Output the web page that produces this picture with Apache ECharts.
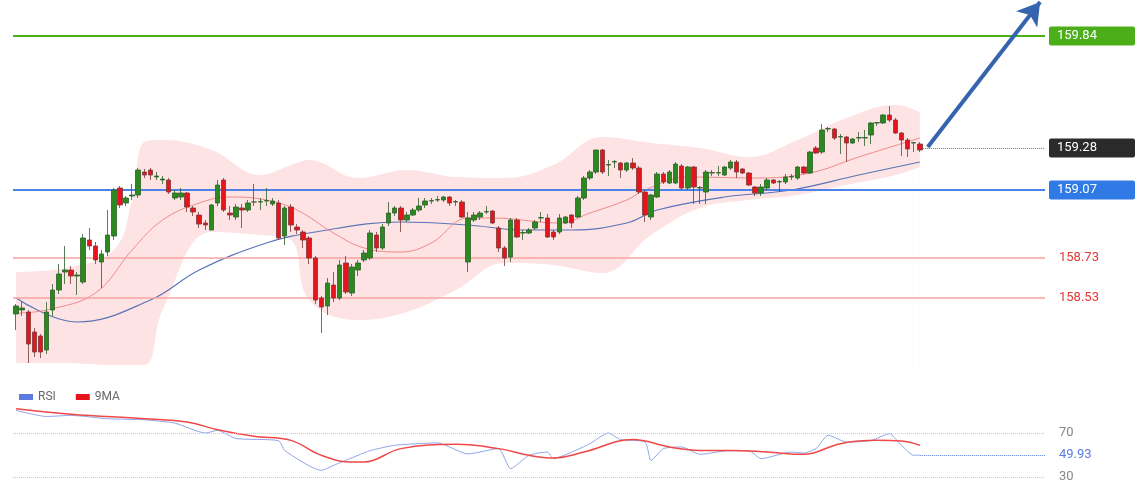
<!DOCTYPE html>
<html>
<head>
<meta charset="utf-8">
<script src="https://cdn.jsdelivr.net/npm/echarts@6/dist/echarts.min.js"></script>
<style>html,body{margin:0;padding:0;background:#fff}#chart{width:1140px;height:500px}</style>
</head>
<body>
<div id="chart"></div>
<script>
// candles: [open, close, low, high]
var candles = [
  [158.45,158.49,158.37,158.50],[158.47,158.48,158.44,158.51],[158.46,158.30,158.205,158.47],[158.36,158.26,158.235,158.38],
  [158.34,158.26,158.23,158.35],[158.27,158.46,158.25,158.51],[158.47,158.57,158.44,158.60],[158.57,158.65,158.55,158.70],
  [158.66,158.67,158.60,158.79],[158.67,158.64,158.60,158.69],[158.64,158.645,158.545,158.66],[158.61,158.83,158.60,158.85],
  [158.82,158.79,158.77,158.88],[158.79,158.72,158.70,158.81],[158.71,158.75,158.58,158.77],[158.76,158.845,158.74,158.97],
  [158.84,159.07,158.82,159.08],[159.08,158.995,158.98,159.09],[159.005,159.03,158.99,159.04],[159.04,159.045,159.02,159.10],
  [159.045,159.17,159.03,159.18],[159.16,159.145,159.13,159.175],[159.17,159.145,159.12,159.18],[159.135,159.14,159.12,159.16],
  [159.12,159.125,159.10,159.14],[159.12,159.06,159.05,159.13],[159.03,159.055,159.02,159.07],[159.035,159.055,159.02,159.08],
  [159.055,158.985,158.96,159.06],[158.98,158.96,158.94,158.99],[158.945,158.90,158.88,158.96],[158.905,158.895,158.87,158.92],
  [158.87,158.995,158.87,159.00],[159.005,159.095,158.99,159.12],[159.12,158.97,158.96,159.13],[158.955,158.945,158.92,158.99],
  [158.935,158.985,158.92,159.00],[158.98,158.97,158.88,159.00],[158.97,159.005,158.96,159.02],[159.01,159.01,158.99,159.10],
  [159.01,159.012,158.97,159.03],[159.015,159.017,158.99,159.08],[159.0,159.015,158.99,159.03],[159.005,158.83,158.82,159.02],
  [158.84,158.98,158.795,158.99],[158.985,158.895,158.86,159.00],[158.885,158.87,158.85,158.90],[158.86,158.82,158.78,158.87],
  [158.83,158.73,158.70,158.84],[158.73,158.52,158.50,158.74],[158.53,158.485,158.355,158.54],[158.49,158.605,158.445,158.63],
  [158.595,158.53,158.51,158.66],[158.53,158.695,158.52,158.72],[158.705,158.56,158.55,158.74],[158.555,158.685,158.54,158.70],
  [158.67,158.705,158.64,158.72],[158.72,158.755,158.71,158.77],[158.73,158.855,158.72,158.87],[158.845,158.78,158.76,158.86],
  [158.78,158.885,158.77,158.90],[158.905,158.955,158.89,159.01],[158.955,158.98,158.94,158.99],[158.98,158.92,158.86,158.99],
  [158.92,158.945,158.91,158.96],[158.945,158.97,158.94,158.98],[158.97,158.99,158.96,159.03],[158.995,159.015,158.98,159.03],
  [159.015,159.017,159.00,159.03],[159.02,159.022,159.01,159.04],[159.02,159.035,159.01,159.04],[159.035,159.005,158.99,159.04],
  [159.01,159.012,158.99,159.02],[159.01,158.935,158.93,159.02],[158.71,158.93,158.66,158.96],[158.92,158.945,158.91,158.96],
  [158.935,158.955,158.92,158.965],[158.96,158.962,158.95,158.99],[158.965,158.905,158.90,158.97],[158.88,158.78,158.76,158.89],
  [158.78,158.73,158.69,158.79],[158.735,158.92,158.71,158.93],[158.92,158.835,158.83,158.93],[158.855,158.857,158.82,158.87],
  [158.855,158.87,158.85,158.88],[158.88,158.91,158.87,158.92],[158.93,158.932,158.91,158.96],[158.93,158.835,158.83,158.95],
  [158.86,158.835,158.82,158.87],[158.86,158.93,158.85,158.95],[158.905,158.935,158.90,158.94],[158.945,158.905,158.88,158.95],
  [158.935,159.03,158.93,159.04],[159.03,159.13,159.02,159.14],[159.13,159.16,159.12,159.17],[159.16,159.27,159.15,159.27],
  [159.27,159.16,159.15,159.275],[159.195,159.197,159.14,159.22],[159.21,159.212,159.18,159.22],[159.205,159.17,159.13,159.21],
  [159.17,159.205,159.16,159.21],[159.205,159.18,159.17,159.23],[159.18,159.06,159.05,159.19],[159.06,158.945,158.91,159.07],
  [158.935,159.045,158.92,159.05],[159.035,159.15,159.03,159.16],[159.15,159.11,159.10,159.16],[159.105,159.16,159.10,159.17],
  [159.105,159.20,159.10,159.21],[159.19,159.08,159.07,159.20],[159.08,159.185,159.07,159.19],[159.185,159.085,159.00,159.19],
  [159.08,159.082,159.00,159.09],[159.06,159.16,159.00,159.17],[159.155,159.157,159.14,159.17],[159.155,159.157,159.14,159.19],
  [159.145,159.185,159.14,159.19],[159.18,159.21,159.17,159.22],[159.21,159.16,159.13,159.22],[159.175,159.155,159.15,159.18],
  [159.155,159.095,159.09,159.16],[159.085,159.055,159.04,159.09],[159.055,159.085,159.04,159.10],[159.08,159.12,159.07,159.13],
  [159.12,159.105,159.10,159.125],[159.11,159.112,159.06,159.12],[159.11,159.135,159.10,159.15],[159.135,159.137,159.12,159.15],
  [159.13,159.185,159.12,159.19],[159.185,159.155,159.15,159.19],[159.155,159.26,159.15,159.265],[159.28,159.255,159.25,159.29],
  [159.26,159.37,159.25,159.40],[159.375,159.377,159.36,159.385],[159.375,159.33,159.32,159.38],[159.335,159.337,159.25,159.35],
  [159.335,159.305,159.21,159.34],[159.305,159.325,159.30,159.33],[159.33,159.332,159.31,159.36],[159.33,159.332,159.29,159.37],
  [159.345,159.405,159.30,159.41],[159.405,159.407,159.39,159.41],[159.405,159.445,159.40,159.45],[159.445,159.42,159.41,159.49],
  [159.42,159.355,159.35,159.43],[159.355,159.32,159.24,159.36],[159.32,159.275,159.235,159.33],[159.305,159.307,159.26,159.31],
  [159.30,159.27,159.26,159.31]
];
var slotCount = 169;

// Bollinger band, sampled [index, price]
var bandUpper = [[0,158.66],[8,158.68],[16,158.77],[19,159.02],[21,159.31],[24,159.32],[32,159.27],[40,159.145],[45,159.195],[48,159.22],[56,159.13],[64,159.17],[72,159.135],[80,159.13],[88,159.195],[96,159.335],[104,159.305],[112,159.28],[120,159.235],[128,159.32],[136,159.43],[144,159.495],[148,159.46]];
var bandLower = [[0,158.205],[8,158.205],[16,158.195],[21,158.195],[24,158.47],[32,158.86],[40,158.845],[45,158.82],[48,158.52],[56,158.42],[64,158.46],[72,158.57],[80,158.705],[88,158.695],[96,158.655],[104,158.845],[112,158.98],[120,159.02],[128,159.045],[136,159.095],[144,159.145],[148,159.185]];
var maFast = [[0,158.455],[5,158.47],[13,158.555],[19,158.77],[24,158.92],[30,159.005],[35,159.035],[41,159.02],[46,158.97],[52,158.855],[57,158.78],[63,158.76],[68,158.805],[74,158.93],[78,158.93],[89,158.905],[94,158.955],[100,159.02],[103,159.07],[110,159.135],[121,159.13],[130,159.155],[138,159.235],[148,159.33]];
var maSlow = [[0,158.53],[10,158.41],[22,158.52],[30,158.67],[41,158.805],[49,158.86],[63,158.91],[74,158.895],[83,158.87],[91,158.87],[100,158.905],[105,158.97],[116,159.035],[127,159.07],[138,159.145],[148,159.21]];

var rsi = [[0,90.6],[5,85],[9,86],[15,83],[21,82],[26,79],[31,70],[33,72.4],[36,65],[43,63],[44,54],[50,36],[52,40.6],[56,49.7],[58,54],[62,58.8],[69,61],[74,51],[79,55.8],[81,37.6],[84,49.7],[87,52.7],[88,46.7],[91,52.7],[94,60.3],[97,70],[99,64],[103,61.8],[104,45],[106,55.8],[109,57.3],[112,50.6],[116,53.6],[120,54],[122,46.7],[127,52.7],[129,51.8],[131,55.8],[133,67.9],[136,61.8],[140,63],[143,69.4],[145,58.8],[147,49.7],[148,49.93]];
var rsiMa = [[0,92],[9,87],[21,83],[28,80],[33,73],[39,67],[45,63.3],[50,49.7],[55,43.6],[57,43.6],[63,55.8],[72,59.7],[79,55.8],[84,49.7],[88,47.3],[93,52.7],[101,64],[107,57.3],[112,54.2],[117,54.2],[123,52.7],[129,50.6],[135,60.3],[141,63.3],[145,62.7],[148,58.8]];

var levelResist = 159.84, levelPivot = 159.07, levelS1 = 158.73, levelS2 = 158.53, lastPrice = 159.28, lastRsi = 49.93;
var arrowFrom = [149.3, 159.285], arrowTo = [167.7, 160.01];

var cats = [];
for (var i = 0; i < slotCount; i++) cats.push(String(i));

var myChart = echarts.init(document.getElementById('chart'));

function hLine(y, color, width, type, label) {
  return { yAxis: y, lineStyle: { color: color, width: width, type: type }, label: label };
}
function boxLabel(text, bg) {
  return { show: true, position: 'end', distance: 4, formatter: text, backgroundColor: bg, color: '#fff',
    padding: [3, 8], width: 70, fontSize: 13, fontFamily: 'Roboto', borderRadius: 2 };
}
function textLabel(text, color) {
  return { show: true, position: 'end', distance: 14, formatter: text, color: color, fontSize: 13, fontFamily: 'Roboto' };
}

var option = {
  animation: false,
  backgroundColor: '#fff',
  legend: {
    left: 14, top: 386, itemWidth: 14, itemHeight: 6, itemGap: 20,
    icon: 'rect',
    textStyle: { color: '#666', fontSize: 12, fontFamily: 'Roboto' },
    data: ['RSI', '9MA']
  },
  grid: [
    { left: 13, top: 0, width: 1032, height: 370 },
    { left: 13, top: 400, width: 1032, height: 88 }
  ],
  xAxis: [
    { type: 'category', gridIndex: 0, data: cats, show: false, boundaryGap: true },
    { type: 'value', gridIndex: 0, min: -0.5, max: slotCount - 0.5, show: false },
    { type: 'value', gridIndex: 1, min: -0.5, max: slotCount - 0.5, show: false }
  ],
  yAxis: [
    { type: 'value', gridIndex: 0, min: 158.17, max: 160.02, show: false, splitLine: { show: false } },
    { type: 'value', gridIndex: 1, min: 20, max: 100, show: false, splitLine: { show: false } }
  ],
  series: [
    { type: 'line', xAxisIndex: 1, yAxisIndex: 0, data: bandUpper, smooth: 0.4, symbol: 'none', z: 1,
      lineStyle: { width: 0 }, areaStyle: { color: '#fde3e3', opacity: 1, origin: 'start' } },
    { type: 'line', xAxisIndex: 1, yAxisIndex: 0, data: bandLower, smooth: 0.4, symbol: 'none', z: 1,
      lineStyle: { width: 0 }, areaStyle: { color: '#ffffff', opacity: 1, origin: 'start' } },
    { type: 'line', xAxisIndex: 1, yAxisIndex: 0, data: maSlow, smooth: 0.4, symbol: 'none', z: 2,
      lineStyle: { color: '#5b74b8', width: 1.2 } },
    { type: 'line', xAxisIndex: 1, yAxisIndex: 0, data: maFast, smooth: 0.4, symbol: 'none', z: 2,
      lineStyle: { color: '#f28a8a', width: 1 } },
    { type: 'candlestick', xAxisIndex: 0, yAxisIndex: 0, data: candles, barWidth: 5, z: 5,
      itemStyle: { color: '#2a8a1e', color0: '#e8141c', borderColor: '#2f5f2a', borderColor0: '#7a3a3a', borderWidth: 0.8 } },
    { type: 'line', xAxisIndex: 1, yAxisIndex: 0, data: [], z: 6,
      markLine: {
        silent: true, symbol: 'none', animation: false,
        data: [
          hLine(levelResist, '#4caf1a', 2, 'solid', boxLabel(String(levelResist), '#4caf1a')),
          hLine(levelPivot, '#4d82e8', 2, 'solid', boxLabel(String(levelPivot), '#2f7ae5')),
          hLine(levelS1, '#f6a3a3', 1.5, 'solid', textLabel(String(levelS1), '#e53935')),
          hLine(levelS2, '#f6a3a3', 1.5, 'solid', textLabel(String(levelS2), '#e53935')),
          [
            { coord: [148.5, lastPrice], lineStyle: { color: '#777', width: 1, type: 'dotted' }, label: boxLabel(String(lastPrice), '#2b2b2b') },
            { coord: [slotCount - 0.5, lastPrice] }
          ],
          [
            { coord: arrowFrom, symbol: 'none', lineStyle: { color: '#3563ad', width: 4, type: 'solid' }, label: { show: false } },
            { coord: arrowTo, symbol: 'arrow', symbolSize: [20, 22] }
          ]
        ]
      }
    },
    { name: 'RSI', type: 'line', xAxisIndex: 2, yAxisIndex: 1, data: rsi, symbol: 'none', smooth: 0.2,
      color: '#5b7be0', lineStyle: { color: '#8fa6ea', width: 1 },
      markLine: {
        silent: true, symbol: 'none',
        data: [
          hLine(70, '#c8c8c8', 1, 'dotted', textLabel('70', '#888')),
          hLine(30, '#c8c8c8', 1, 'dotted', textLabel('30', '#888')),
          [
            { coord: [148, lastRsi], lineStyle: { color: '#5b7be0', width: 1, type: 'dotted' }, label: textLabel(String(lastRsi), '#5b7be0') },
            { coord: [slotCount - 0.5, lastRsi] }
          ]
        ]
      }
    },
    { name: '9MA', type: 'line', xAxisIndex: 2, yAxisIndex: 1, data: rsiMa, symbol: 'none', smooth: 0.4,
      color: '#e8141c', lineStyle: { color: '#f04848', width: 1.5 } }
  ]
};

myChart.setOption(option);
</script>
</body>
</html>
